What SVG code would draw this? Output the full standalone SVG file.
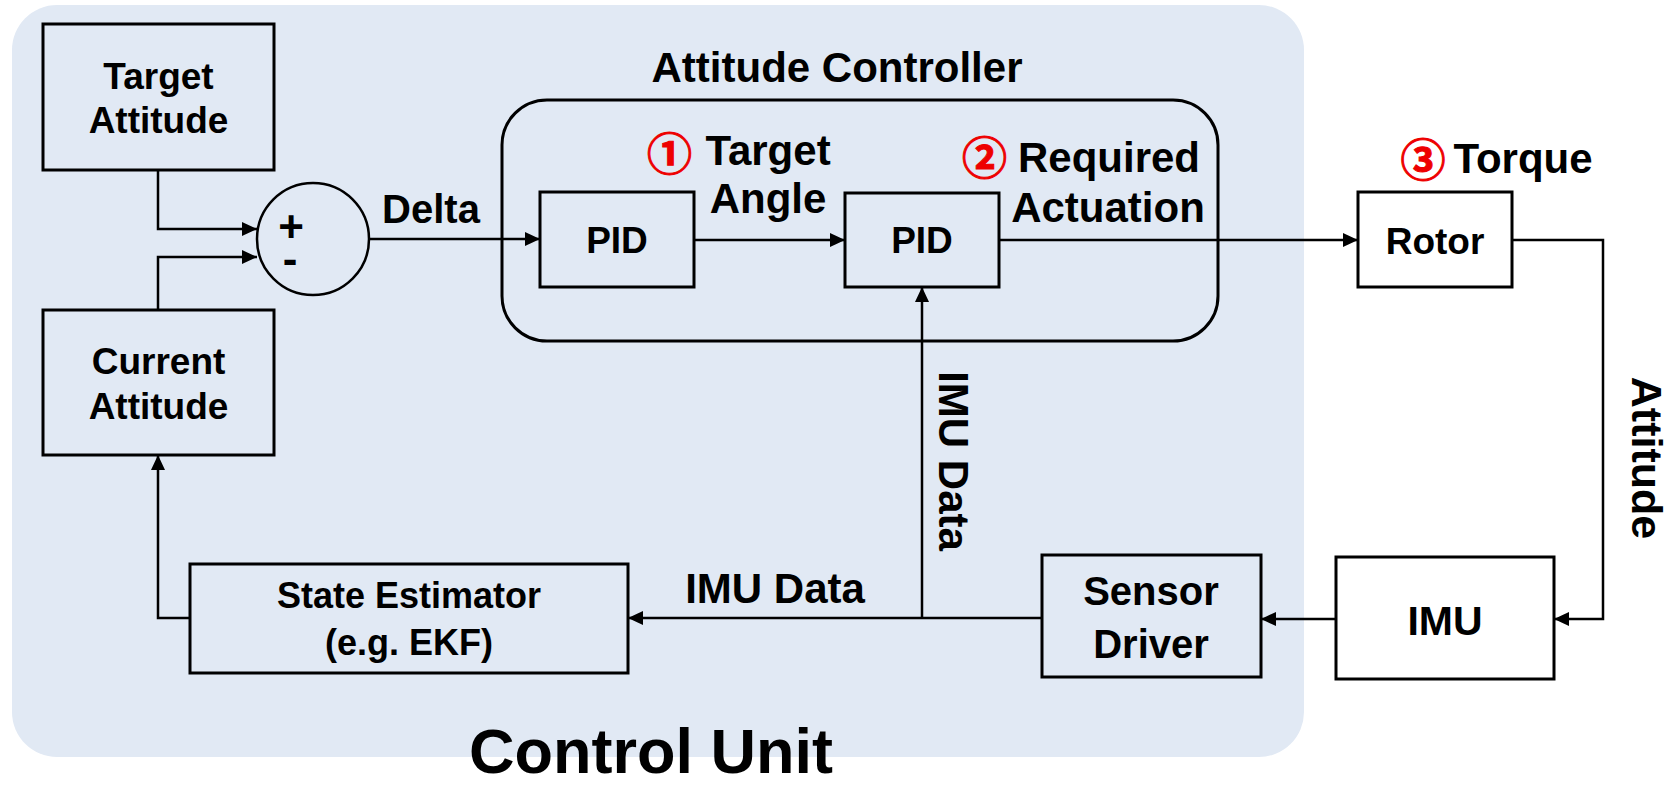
<svg xmlns="http://www.w3.org/2000/svg" width="1672" height="785" viewBox="0 0 1672 785">
<defs>
<marker id="ah" markerUnits="userSpaceOnUse" markerWidth="16" markerHeight="14" refX="15" refY="7" orient="auto">
<path d="M0,0 L15,7 L0,14 z" fill="#000"/>
</marker>
<style>
.box{fill:none;stroke:#000;stroke-width:3}
.wbox{fill:#fff;stroke:#000;stroke-width:3}
.ln{fill:none;stroke:#000;stroke-width:2.5;marker-end:url(#ah)}
.t{font-family:"Liberation Sans",Arial,sans-serif;font-weight:bold;fill:#000;text-anchor:middle}
.num{font-family:"Noto Sans CJK SC","DejaVu Sans",sans-serif;font-weight:bold;fill:#e00;stroke:#e00;stroke-width:1;text-anchor:middle;font-size:45px}
</style>
</defs>
<rect x="0" y="0" width="1672" height="785" fill="#fff"/>
<g id="control-unit">
<rect x="12" y="5" width="1292" height="752" rx="45" ry="45" fill="#e1e9f4"/>
<text class="t" x="651" y="773" font-size="63">Control Unit</text>
</g>
<g id="attitude-controller">
<rect class="box" x="502" y="100" width="716" height="241" rx="45" ry="45" stroke-width="2.5"/>
<text class="t" x="837" y="82" font-size="42">Attitude Controller</text>
</g>
<g id="target-attitude">
<rect class="box" x="43" y="24" width="231" height="146"/>
<text class="t" x="158.5" y="89" font-size="37">Target</text>
<text class="t" x="158.5" y="133" font-size="37">Attitude</text>
</g>
<g id="current-attitude">
<rect class="box" x="43" y="310" width="231" height="145"/>
<text class="t" x="158.5" y="374" font-size="37">Current</text>
<text class="t" x="158.5" y="419" font-size="37">Attitude</text>
</g>
<g id="sum">
<circle cx="313" cy="239" r="56" fill="none" stroke="#000" stroke-width="2.5"/>
<text class="t" font-size="44"><tspan x="291" y="242">+</tspan><tspan x="290" y="274">-</tspan></text>
</g>
<g id="pid1">
<rect class="box" x="540" y="192" width="154" height="95"/>
<text class="t" x="617" y="253" font-size="37">PID</text>
</g>
<g id="pid2">
<rect class="box" x="845" y="193" width="154" height="94"/>
<text class="t" x="922" y="253" font-size="37">PID</text>
</g>
<g id="rotor">
<rect class="wbox" x="1358" y="192" width="154" height="95"/>
<text class="t" x="1435" y="254" font-size="37">Rotor</text>
</g>
<g id="imu">
<rect class="wbox" x="1336" y="557" width="218" height="122"/>
<text class="t" x="1445" y="635" font-size="41">IMU</text>
</g>
<g id="sensor-driver">
<rect class="box" x="1042" y="555" width="219" height="122"/>
<text class="t" x="1151" y="605" font-size="40">Sensor</text>
<text class="t" x="1151" y="658" font-size="40">Driver</text>
</g>
<g id="state-estimator">
<rect class="box" x="190" y="564" width="438" height="109"/>
<text class="t" x="409" y="608" font-size="36">State Estimator</text>
<text class="t" x="409" y="655" font-size="36">(e.g. EKF)</text>
</g>
<g id="connectors">
<path class="ln" d="M158,170 V229 H257"/>
<path class="ln" d="M158,310 V257 H257"/>
<path class="ln" d="M369,239 H540"/>
<path class="ln" d="M694,240 H845"/>
<path class="ln" d="M999,240 H1358"/>
<path class="ln" d="M1512,240 H1603 V619 H1554"/>
<path class="ln" d="M1336,619 H1261"/>
<path class="ln" d="M1042,618 H628"/>
<path class="ln" d="M922,618 V287"/>
<path class="ln" d="M190,618 H158 V455"/>
</g>
<g id="labels">
<text class="t" x="431" y="223" font-size="40">Delta</text>
<text class="num" x="669.5" y="171">①</text>
<text class="t" x="768" y="165" font-size="42">Target</text>
<text class="t" x="768" y="213" font-size="42">Angle</text>
<text class="num" x="984.5" y="175">②</text>
<text class="t" x="1109" y="172" font-size="42">Required</text>
<text class="t" x="1108" y="222" font-size="42">Actuation</text>
<text class="num" x="1423" y="177">③</text>
<text class="t" x="1523" y="173" font-size="42">Torque</text>
<text class="t" x="775" y="603" font-size="42">IMU Data</text>
<text class="t" transform="translate(939,461) rotate(90)" font-size="42">IMU Data</text>
<text class="t" transform="translate(1632,458) rotate(90)" font-size="43">Attitude</text>
</g>
</svg>
